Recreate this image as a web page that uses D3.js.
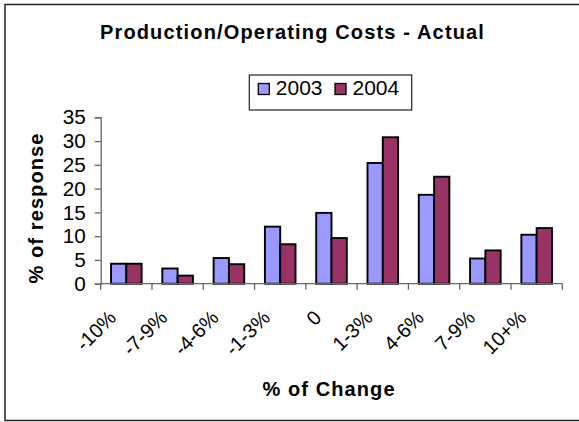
<!DOCTYPE html>
<html>
<head>
<meta charset="utf-8">
<script src="https://cdn.jsdelivr.net/npm/d3@7/dist/d3.min.js"></script>
<style>
  html, body { margin: 0; padding: 0; background: #fff; }
  svg { display: block; font-family: "Liberation Sans", Arial, sans-serif; }
</style>
</head>
<body>
<svg id="chart" width="579" height="422"></svg>
<script>
// Survey responses: % change in production/operating costs
const categories = ["-10%", "-7-9%", "-4-6%", "-1-3%", "0", "1-3%", "4-6%", "7-9%", "10+%"];
const series = ["2003", "2004"];
const values2003 = [4.2, 3.2, 5.4, 12.0, 14.9, 25.4, 18.7, 5.3, 10.3];
const values2004 = [4.2, 1.7, 4.1, 8.3, 9.6, 30.8, 22.5, 7.0, 11.7];
const yTicks = [0, 5, 10, 15, 20, 25, 30, 35];

const colors = { "2003": "#9999FF", "2004": "#993366" };
const rows = categories.map((c, i) => ({ cat: c, "2003": values2003[i], "2004": values2004[i] }));

const svg = d3.select("#chart");

// outer chart frame
svg.append("rect")
  .attr("x", 5).attr("y", 4.5).attr("width", 580).attr("height", 416)
  .attr("fill", "#fff").attr("stroke", "#222").attr("stroke-width", 1.5);

const plot = { left: 100.7, right: 562.3, top: 117.3, bottom: 283.7 };

const x = d3.scaleBand().domain(categories).range([plot.left, plot.right]).paddingInner(0).paddingOuter(0);
const x1 = d3.scaleBand().domain(series).range([0, x.bandwidth()]).paddingInner(0).paddingOuter(0.676);
const y = d3.scaleLinear().domain([0, 35]).range([plot.bottom, plot.top]);

// bars
const groups = svg.append("g").selectAll("g").data(rows).join("g")
  .attr("transform", d => `translate(${x(d.cat)},0)`);
groups.selectAll("rect").data(d => series.map(s => ({ s, v: d[s] }))).join("rect")
  .attr("x", d => x1(d.s))
  .attr("y", d => y(d.v))
  .attr("width", x1.bandwidth())
  .attr("height", d => y(0) - y(d.v))
  .attr("fill", d => colors[d.s])
  .attr("stroke", "#000")
  .attr("stroke-width", 1.9);

// y axis
const yAxis = svg.append("g")
  .attr("transform", `translate(${plot.left},0)`)
  .call(d3.axisLeft(y).tickValues(yTicks).tickSize(6).tickPadding(9));
yAxis.select(".domain").attr("stroke", "#666").attr("stroke-width", 1.3);
yAxis.selectAll(".tick line").attr("stroke", "#666").attr("stroke-width", 1.3);
yAxis.selectAll(".tick text").attr("font-size", 20.7).attr("fill", "#000")
  .attr("font-family", "'Liberation Sans', Arial, sans-serif");

// x axis line and tick marks at category boundaries
const xg = svg.append("g");
xg.append("line")
  .attr("x1", plot.left).attr("x2", plot.right)
  .attr("y1", plot.bottom).attr("y2", plot.bottom)
  .attr("stroke", "#666").attr("stroke-width", 1.3);
const bounds = categories.map(c => x(c)).concat([x(categories[categories.length - 1]) + x.bandwidth()]);
xg.selectAll("line.tk").data(bounds).join("line").attr("class", "tk")
  .attr("x1", d => d).attr("x2", d => d)
  .attr("y1", plot.bottom).attr("y2", plot.bottom + 6)
  .attr("stroke", "#666").attr("stroke-width", 1.3);

// rotated category labels
xg.selectAll("text").data(categories).join("text")
  .attr("transform", d => `translate(${x(d) + x.bandwidth() / 2 - 9},319) rotate(-45)`)
  .attr("text-anchor", "end")
  .attr("font-size", 20)
  .attr("fill", "#000")
  .text(d => d);

// title
svg.append("text")
  .attr("x", 292.5).attr("y", 39)
  .attr("text-anchor", "middle")
  .attr("font-size", 20).attr("font-weight", "bold").attr("letter-spacing", 1.15)
  .text("Production/Operating Costs - Actual");

// axis titles
svg.append("text")
  .attr("x", 329).attr("y", 396)
  .attr("text-anchor", "middle")
  .attr("font-size", 20).attr("font-weight", "bold").attr("letter-spacing", 1.1)
  .text("% of Change");

svg.append("text")
  .attr("transform", "translate(43,208) rotate(-90)")
  .attr("text-anchor", "middle")
  .attr("font-size", 20).attr("font-weight", "bold").attr("letter-spacing", 1.1)
  .text("% of response");

// legend
const lg = svg.append("g");
lg.append("rect")
  .attr("x", 249.3).attr("y", 75).attr("width", 162.4).attr("height", 35)
  .attr("fill", "#fff").attr("stroke", "#222").attr("stroke-width", 1.2);
const legendX = [258.3, 335];
series.forEach((s, i) => {
  lg.append("rect")
    .attr("x", legendX[i]).attr("y", 83.5).attr("width", 11).attr("height", 11)
    .attr("fill", colors[s]).attr("stroke", "#000").attr("stroke-width", 1.3);
  lg.append("text")
    .attr("x", legendX[i] + 17.5).attr("y", 94.7)
    .attr("font-size", 21).attr("fill", "#000")
    .text(s);
});
</script>
</body>
</html>
